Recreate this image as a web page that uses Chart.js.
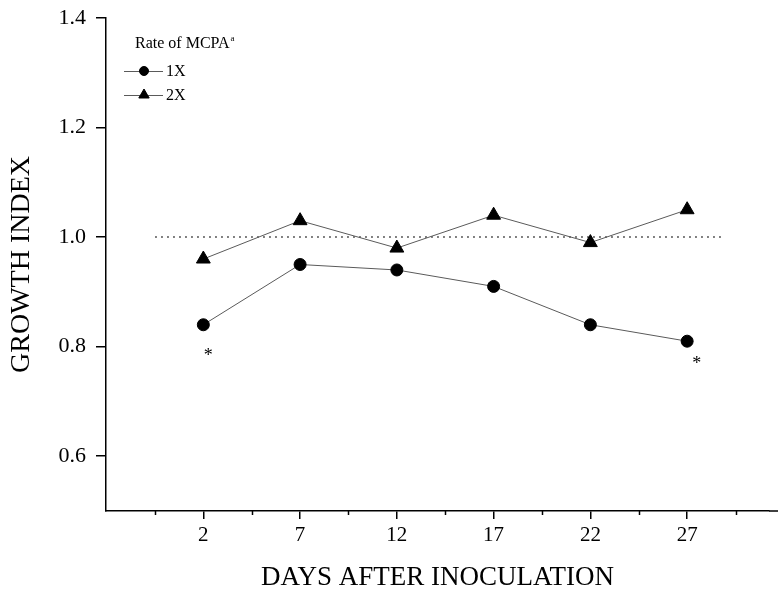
<!DOCTYPE html>
<html>
<head>
<meta charset="utf-8">
<script src="https://cdn.jsdelivr.net/npm/chart.js@4.4.1/dist/chart.umd.min.js"></script>
<style>
  html, body { margin: 0; padding: 0; background: #fff; overflow: hidden; }
  canvas { display: block; }
</style>
</head>
<body>
<canvas id="chart" width="778" height="591"></canvas>
<script>
// values
const days = [2, 7, 12, 17, 22, 27]
const rate1X = [0.84, 0.95, 0.94, 0.91, 0.84, 0.81]
const rate2X = [0.96, 1.03, 0.98, 1.04, 0.99, 1.05]
const yTicks = [0.6, 0.8, 1.0, 1.2, 1.4]
const xMinorTicks = [-0.5, 4.5, 9.5, 14.5, 19.5, 24.5, 29.5]
const refLineX = [-0.5, 28.8]
const refLineY = 1.0
const asterisks = [[2.25, 0.79], [27.5, 0.775]]

const serif = '"Liberation Serif", "DejaVu Serif", serif'
const lineGray = '#5a5a5a'

const toPoints = (ys) => days.map((d, i) => ({ x: d, y: ys[i] }))

// short minor ticks on the x axis, plus asterisks and the legend block
const extras = {
  id: 'extras',
  afterDraw(chart) {
    const { ctx, scales: { x, y } } = chart
    const base = chart.chartArea.bottom
    ctx.save()
    ctx.strokeStyle = '#000'
    ctx.lineWidth = 1.5
    // the axis runs on to the edge of the figure
    ctx.beginPath()
    ctx.moveTo(chart.chartArea.right, base)
    ctx.lineTo(chart.width, base)
    ctx.stroke()
    xMinorTicks.forEach(v => {
      const px = Math.round(x.getPixelForValue(v)) + 0.5
      ctx.beginPath()
      ctx.moveTo(px, base)
      ctx.lineTo(px, base + 4)
      ctx.stroke()
    })

    ctx.fillStyle = '#000'
    ctx.font = '18px ' + serif
    ctx.textAlign = 'center'
    ctx.textBaseline = 'middle'
    asterisks.forEach(([ax, ay]) => {
      ctx.fillText('*', x.getPixelForValue(ax), y.getPixelForValue(ay) + 4)
    })

    // legend
    ctx.textAlign = 'left'
    ctx.textBaseline = 'alphabetic'
    ctx.font = '16px ' + serif
    ctx.fillText('Rate of MCPA', 135, 48)
    const w = ctx.measureText('Rate of MCPA').width
    ctx.font = '9px ' + serif
    ctx.fillText('a', 135 + w + 1, 41)

    const rows = [['1X', 'circle', 71], ['2X', 'triangle', 95]]
    rows.forEach(([label, style, ly]) => {
      ctx.strokeStyle = lineGray
      ctx.lineWidth = 1
      ctx.beginPath()
      ctx.moveTo(124, ly + 0.5)
      ctx.lineTo(163, ly + 0.5)
      ctx.stroke()
      ctx.fillStyle = '#000'
      ctx.strokeStyle = '#000'
      Chart.helpers.drawPoint(ctx, { pointStyle: style, radius: style === 'circle' ? 4.5 : 6, borderWidth: 1 }, 144, ly)
      ctx.fillStyle = '#000'
      ctx.font = '16px ' + serif
      ctx.textBaseline = 'middle'
      ctx.fillText(label, 166, ly + 1)
    })
    ctx.restore()
  }
}

new Chart(document.getElementById('chart'), {
  type: 'line',
  data: {
    datasets: [
      {
        label: '1X',
        data: toPoints(rate1X),
        borderColor: lineGray,
        borderWidth: 1,
        pointStyle: 'circle',
        pointRadius: 6,
        pointBackgroundColor: '#000',
        pointBorderColor: '#000',
        tension: 0
      },
      {
        label: '2X',
        data: toPoints(rate2X),
        borderColor: lineGray,
        borderWidth: 1,
        pointStyle: 'triangle',
        pointRadius: 8,
        pointBackgroundColor: '#000',
        pointBorderColor: '#000',
        tension: 0
      },
      {
        label: 'ref',
        data: refLineX.map(v => ({ x: v, y: refLineY })),
        borderColor: '#555',
        borderWidth: 1.5,
        borderDash: [2, 4],
        pointRadius: 0
      }
    ]
  },
  options: {
    responsive: false,
    animation: false,
    devicePixelRatio: 1,
    layout: { padding: { top: 18, right: 0, left: 0, bottom: 0 } },
    plugins: {
      legend: { display: false },
      tooltip: { enabled: false }
    },
    scales: {
      x: {
        type: 'linear',
        min: -3.03,
        max: 31.23,
        afterFit: (s) => { s.height = 80; s.paddingLeft = 0; s.paddingRight = 0 },
        afterBuildTicks: (s) => { s.ticks = days.map(v => ({ value: v })) },
        grid: { drawOnChartArea: false, drawTicks: true, tickLength: 8, color: '#000', lineWidth: 1.5 },
        border: { display: true, color: '#000', width: 1.5 },
        ticks: {
          color: '#000',
          padding: 4,
          maxRotation: 0,
          font: { family: serif, size: 21 }
        },
        title: {
          display: true,
          text: 'DAYS AFTER INOCULATION',
          color: '#000',
          padding: 0,
          font: { family: serif, size: 27, lineHeight: 1 }
        }
      },
      y: {
        min: 0.5,
        max: 1.4,
        afterFit: (s) => { s.width = 106; s.paddingTop = 0; s.paddingBottom = 0 },
        afterBuildTicks: (s) => { s.ticks = yTicks.map(v => ({ value: v })) },
        grid: { drawOnChartArea: false, drawTicks: true, tickLength: 10, color: '#000', lineWidth: 1.5 },
        border: { display: true, color: '#000', width: 1.5 },
        ticks: {
          color: '#000',
          padding: 10,
          font: { family: serif, size: 22 },
          callback: (v) => Number(v).toFixed(1)
        },
        title: {
          display: true,
          text: 'GROWTH INDEX',
          color: '#000',
          padding: { top: 8, bottom: 0 },
          font: { family: serif, size: 28, lineHeight: 1 }
        }
      }
    }
  },
  plugins: [extras]
})
</script>
</body>
</html>
